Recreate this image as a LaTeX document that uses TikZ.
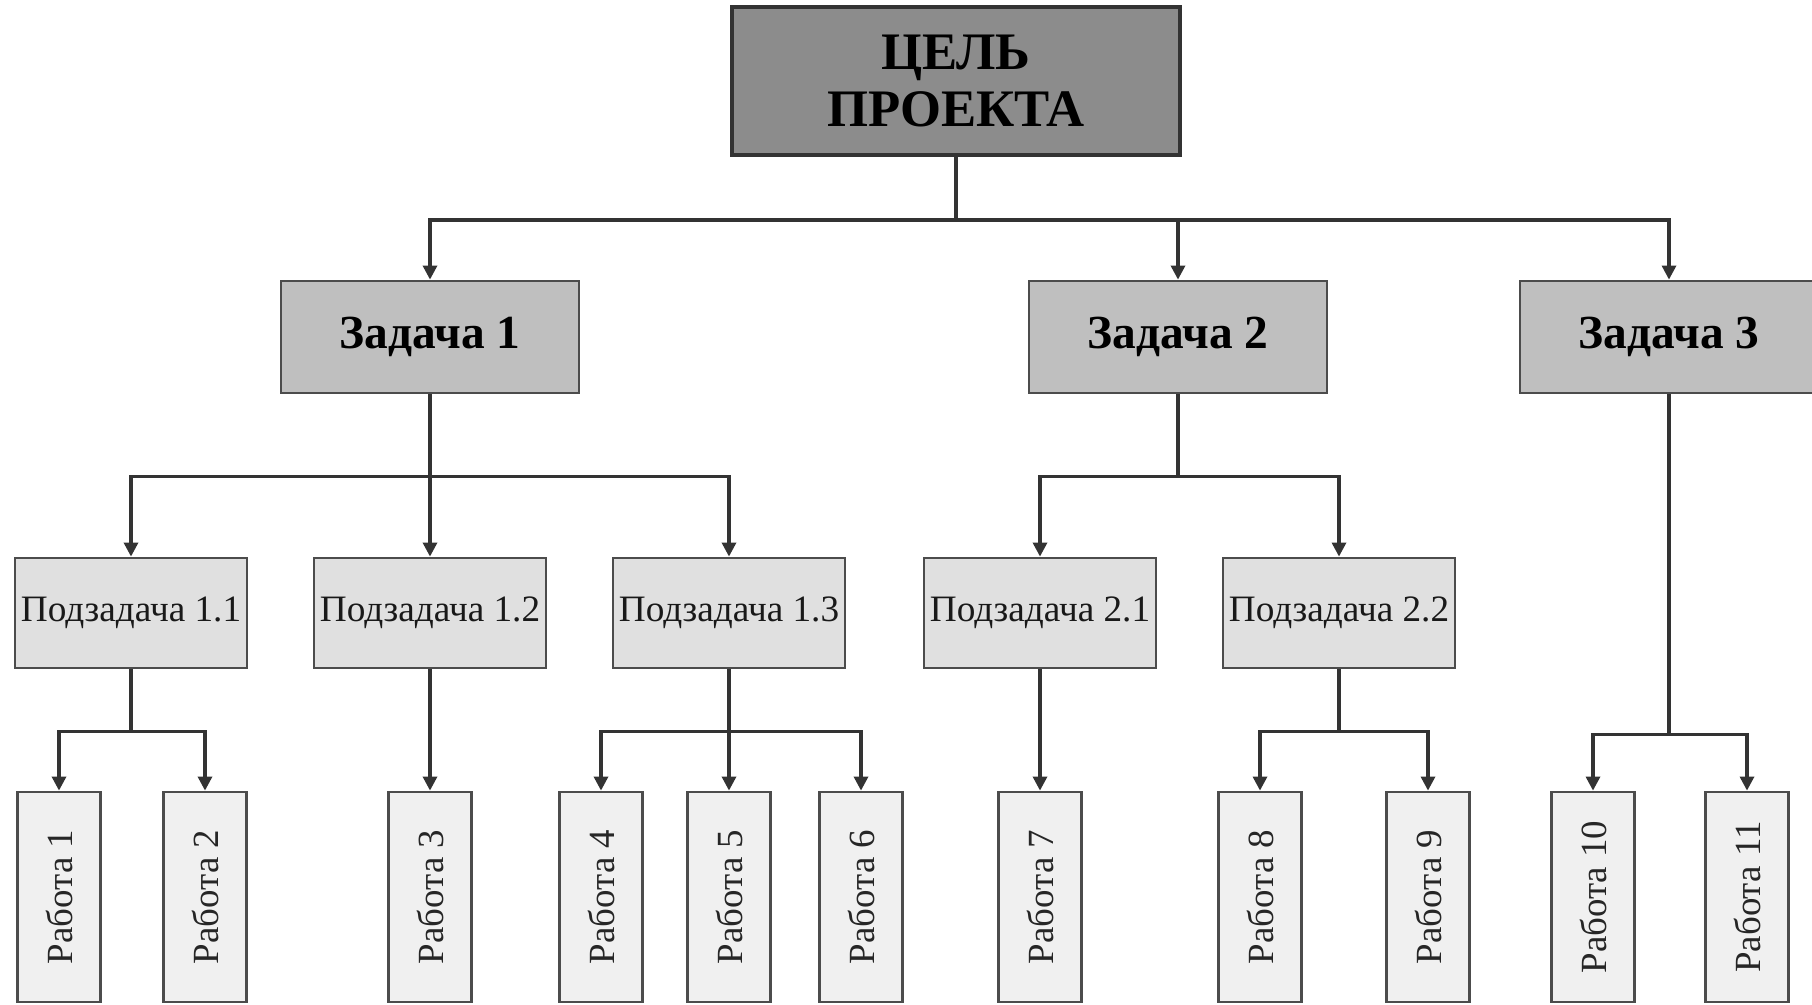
\documentclass[tikz,border=0pt]{standalone}
\usepackage{fontspec}
\setmainfont{Liberation Serif}
\usepackage{graphicx}
\usetikzlibrary{arrows.meta}

\begin{document}
\begin{tikzpicture}[
    >={Triangle[length=4pt,width=4pt]},
    goalbox/.style={draw=black!80, line width=1.1pt, fill=black!45, minimum width=4.48cm, minimum height=1.48cm, align=center, font=\fontsize{15}{16.5}\selectfont\bfseries},
    taskbox/.style={draw=black!70, line width=0.8pt, fill=black!25, minimum width=2.98cm, minimum height=1.12cm, font=\fontsize{13.5}{15}\selectfont\bfseries},
    subbox/.style={draw=black!70, line width=0.8pt, fill=black!12, minimum width=2.32cm, minimum height=1.10cm, inner sep=1pt, font=\fontsize{10.6}{13}\selectfont, text=black!90},
    workbox/.style={draw=black!70, line width=0.8pt, fill=black!6, minimum width=0.83cm, minimum height=2.10cm, inner sep=1pt, font=\fontsize{10.5}{12}\selectfont, text=black!85},
    link/.style={->, line width=0.9pt, draw=black!80}
]
        \useasboundingbox (0,0) rectangle (18.12,10.04);

        % Project goal
        \node[goalbox] (goal) at (9.56,9.23) {ЦЕЛЬ\\ПРОЕКТА};

        % Tasks
        \node[taskbox] (t1) at (4.30,6.67) {Задача 1};
        \node[taskbox] (t2) at (11.78,6.67) {Задача 2};
        \node[taskbox] (t3) at (16.69,6.67) {Задача 3};

        % Subtasks
        \node[subbox] (s11) at (1.31,3.91) {Подзадача 1.1};
        \node[subbox] (s12) at (4.30,3.91) {Подзадача 1.2};
        \node[subbox] (s13) at (7.29,3.91) {Подзадача 1.3};
        \node[subbox] (s21) at (10.40,3.91) {Подзадача 2.1};
        \node[subbox] (s22) at (13.39,3.91) {Подзадача 2.2};

        % Works
        \foreach \n/\x in {1/0.59, 2/2.05, 3/4.30, 4/6.01, 5/7.29, 6/8.61, 7/10.40, 8/12.60, 9/14.28, 10/15.93, 11/17.47} {
            \node[workbox] (w\n) at (\x,1.07) {\rotatebox{90}{Работа \n}};
        }

        % Goal to tasks
        \foreach \t in {t1,t2,t3}
            \draw[link] (goal.south) -- ++(0,-0.63) -| (\t.north);

        % Tasks to subtasks
        \foreach \s in {s11,s12,s13}
            \draw[link] (t1.south) -- ++(0,-0.82) -| (\s.north);
        \foreach \s in {s21,s22}
            \draw[link] (t2.south) -- ++(0,-0.82) -| (\s.north);

        % Subtasks to works
        \foreach \w in {w1,w2}
            \draw[link] (s11.south) -- ++(0,-0.62) -| (\w.north);
        \draw[link] (s12.south) -- (w3.north);
        \foreach \w in {w4,w5,w6}
            \draw[link] (s13.south) -- ++(0,-0.62) -| (\w.north);
        \draw[link] (s21.south) -- (w7.north);
        \foreach \w in {w8,w9}
            \draw[link] (s22.south) -- ++(0,-0.62) -| (\w.north);
        \foreach \w in {w10,w11}
            \draw[link] (t3.south) -- ++(0,-3.40) -| (\w.north);

\end{tikzpicture}
\end{document}
